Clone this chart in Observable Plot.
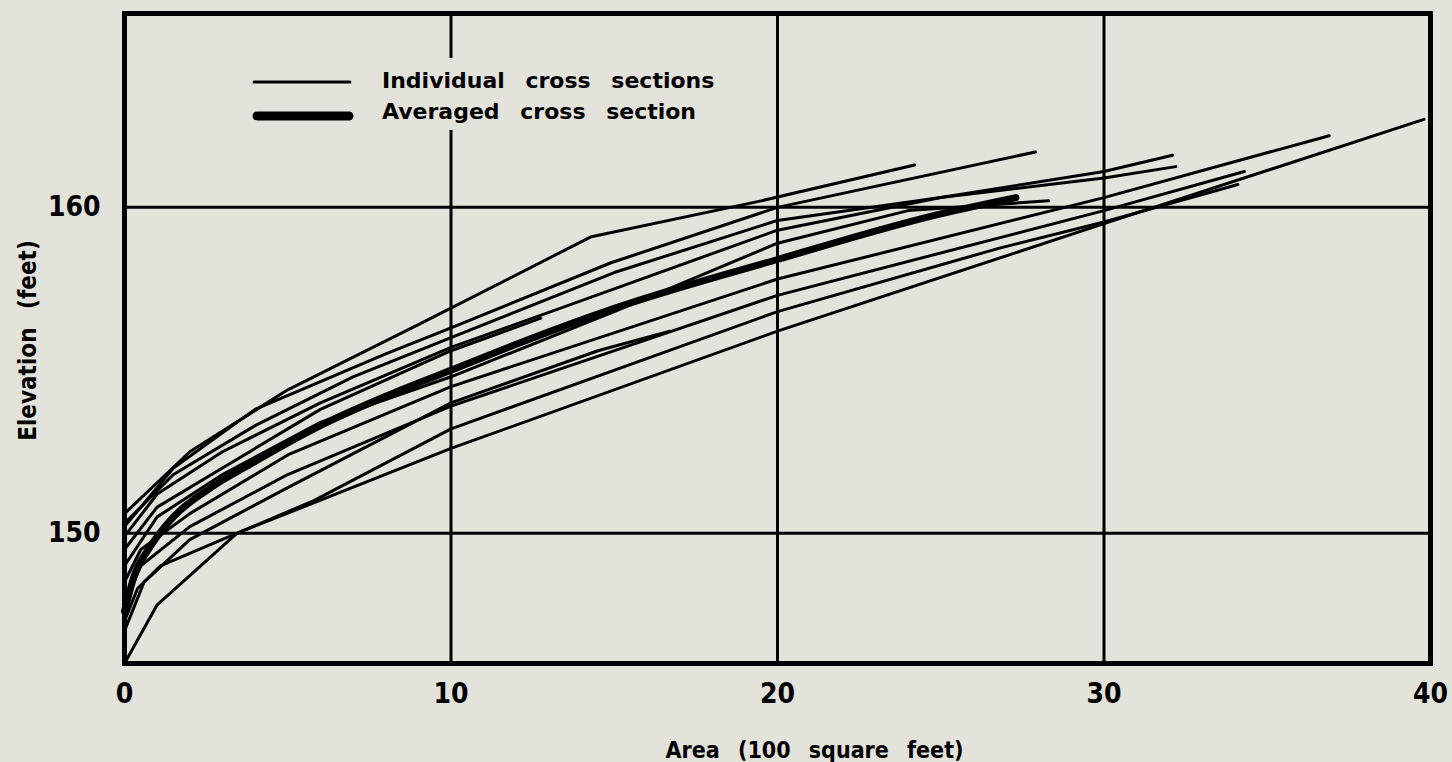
<!DOCTYPE html>
<html>
<head>
<meta charset="utf-8">
<script src="https://cdn.jsdelivr.net/npm/d3@7"></script>
<script src="https://cdn.jsdelivr.net/npm/@observablehq/plot@0.6"></script>
<style>
  html, body { margin: 0; padding: 0; background: #e3e3dc; }
  #wrap { position: relative; width: 1452px; height: 762px; overflow: hidden; }
  #wrap svg text { word-spacing: 11px; }
  .legend-text {
    position: absolute; left: 372px; top: 58px; width: 362px; height: 72px;
    background: #e3e3dc; font-family: "DejaVu Sans", sans-serif; font-weight: bold;
    font-size: 22px; line-height: 31px; word-spacing: 13px; padding-left: 10px;
    color: #000; box-sizing: border-box; padding-top: 7px; white-space: nowrap;
  }
  .legend-swatch { position: absolute; left: 252px; }
</style>
</head>
<body>
<div id="wrap"></div>
<script>
// Axis ticks
const xTicks = [0, 10, 20, 30, 40];
const yTicks = [150, 160];
const xLabel = "Area (100 square feet)";
const yLabel = "Elevation (feet)";
const legendLabels = ["Individual cross sections", "Averaged cross section"];

// Individual cross sections: [area (100 sq ft), elevation (ft)]
const sectionA = [[0,150.6],[2,152.5],[5,154.4],[9,156.4],[14.3,159.1],[19.5,160.2],[24.2,161.3]];
const sectionB = [[0,150.2],[1.5,152.0],[4,153.8],[8,155.5],[10,156.3],[14.9,158.3],[20,160.0],[27.9,161.7]];
const sectionC = [[0,150.3],[1.5,151.8],[4,153.3],[7,154.8],[10,156.0],[15,158.0],[20,159.6],[25,160.3],[30,161.1],[32.1,161.6]];
const sectionD = [[0,149.9],[1,151.2],[3,152.5],[6,154.0],[10,155.7],[15,157.5],[20,159.3],[25,160.3],[30,160.9],[32.2,161.25]];
const sectionE = [[0,148.5],[0.5,149.5],[2,150.6],[5,152.4],[10,154.5],[20,157.8],[30,160.3],[36.9,162.2]];
const sectionF = [[0,146.0],[1.0,147.8],[3.45,150.0],[10,152.6],[20,156.2],[30,159.5],[39.8,162.7]];
const sectionG = [[0,147.8],[0.5,149.0],[2,150.2],[5,151.8],[10,153.9],[20,157.3],[30,159.9],[34.3,161.1]];
const sectionH = [[0,147.3],[0.4,148.3],[1.1,149.0],[5.8,151.0],[10,153.2],[20,156.8],[26.8,158.75],[30,159.55],[34.1,160.7]];
const sectionI = [[0,149.5],[1,150.8],[3,152.0],[6,153.8],[10,155.6],[12.75,156.6]];
const sectionJ = [[0,147.0],[0.6,148.5],[2,149.8],[5,151.4],[10,154.0],[14.5,155.6],[16.7,156.2]];
const sectionK = [[0,149.0],[1,150.5],[3,151.8],[6,153.4],[10,154.8],[15,156.8],[20,158.9],[24,159.9],[28.3,160.2]];

// Averaged cross section
const averaged = [[0,147.6],[0.3,148.7],[0.8,149.6],[1.5,150.5],[2.5,151.3],[4,152.2],[6,153.3],[8,154.2],[10,155.0],[12,155.8],[15,156.9],[20,158.4],[25,159.8],[27.3,160.3]];

const sections = [sectionA, sectionB, sectionC, sectionD, sectionE, sectionF, sectionG, sectionH, sectionI, sectionJ, sectionK];
const individualRows = sections.flatMap((s, i) => s.map(([area, elev]) => ({id: i, area, elev})));
const averagedRows = averaged.map(([area, elev]) => ({area, elev}));

const font = "'DejaVu Sans Condensed', 'DejaVu Sans', sans-serif";

const chart = Plot.plot({
  width: 1452,
  height: 762,
  marginLeft: 124,
  marginRight: 22,
  marginTop: 13,
  marginBottom: 99,
  x: {domain: [0, 40]},
  y: {domain: [146, 165.95]},
  style: {background: "transparent", fontFamily: font, fontWeight: "bold", color: "#000"},
  marks: [
    Plot.ruleX(xTicks.slice(1, -1), {stroke: "#000", strokeWidth: 3}),
    Plot.ruleY(yTicks, {stroke: "#000", strokeWidth: 3}),
    Plot.line(individualRows, {x: "area", y: "elev", z: "id", stroke: "#000", strokeWidth: 3, strokeLinejoin: "round", strokeLinecap: "round"}),
    Plot.line(averagedRows, {x: "area", y: "elev", stroke: "#000", strokeWidth: 7, curve: "monotone-x", strokeLinecap: "round"}),
    Plot.frame({stroke: "#000", strokeWidth: 5}),
    Plot.axisX(xTicks, {tickSize: 0, tickPadding: 20, fontSize: 28, fontWeight: "bold", label: null}),
    Plot.axisY(yTicks, {tickSize: 0, tickPadding: 24, fontSize: 28, fontWeight: "bold", label: null}),
    Plot.text([xLabel], {frameAnchor: "bottom", textAnchor: "middle", lineAnchor: "middle", dx: 37, dy: 87, fontSize: 23, fontWeight: "bold"}),
    Plot.text([yLabel], {frameAnchor: "left", textAnchor: "middle", lineAnchor: "middle", dx: -96, dy: 2, rotate: -90, fontSize: 24, fontWeight: "bold"})
  ]
});

const wrap = document.getElementById("wrap");
wrap.appendChild(chart);

// Legend (inside the plot frame, upper left)
const sw1 = document.createElementNS("http://www.w3.org/2000/svg", "svg");
sw1.setAttribute("class", "legend-swatch");
sw1.setAttribute("width", "104");
sw1.setAttribute("height", "60");
sw1.style.top = "66px";
sw1.innerHTML = '<line x1="2" x2="98" y1="16" y2="16" stroke="#000" stroke-width="3" stroke-linecap="round"/>' +
                '<line x1="5" x2="97" y1="50" y2="50" stroke="#000" stroke-width="9" stroke-linecap="round"/>';
wrap.appendChild(sw1);

const lt = document.createElement("div");
lt.className = "legend-text";
lt.innerHTML = legendLabels.map(t => `<div>${t}</div>`).join("");
wrap.appendChild(lt);
</script>
</body>
</html>
